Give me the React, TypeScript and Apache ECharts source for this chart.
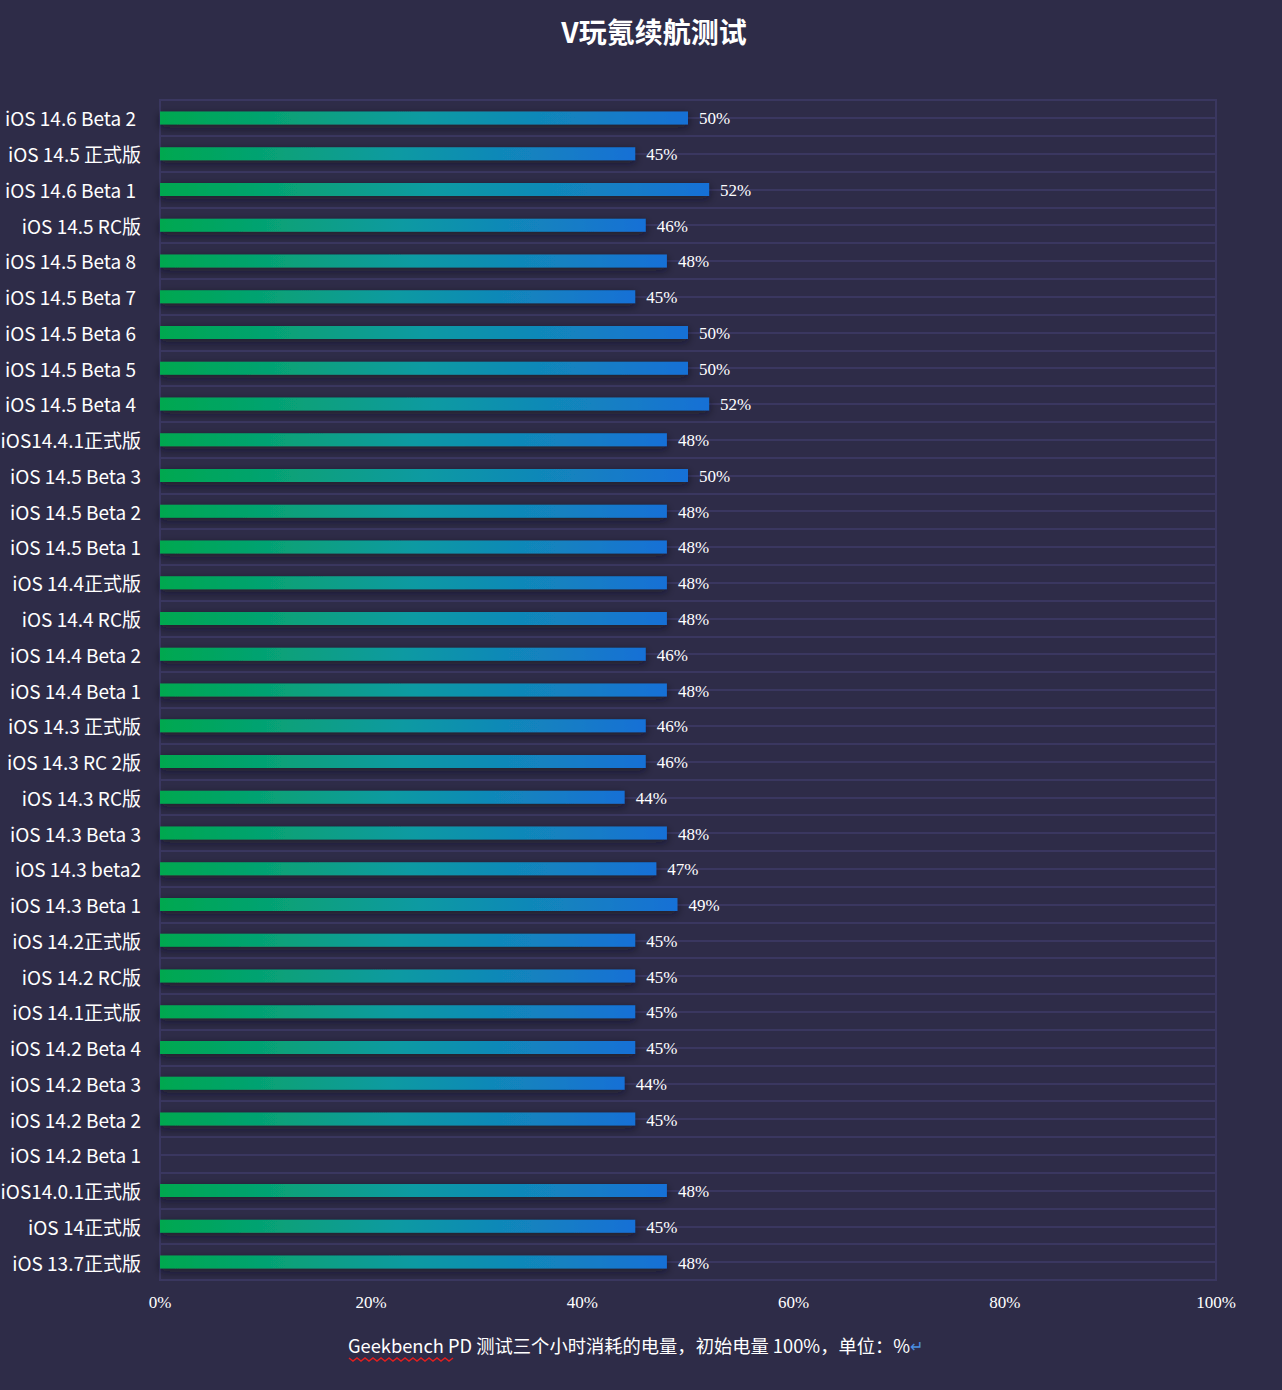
import React, { useEffect, useRef } from "react";
import * as echarts from "echarts";

const categories: string[] = [
  "iOS 14.6 Beta 2",
  "iOS 14.5 正式版",
  "iOS 14.6 Beta 1",
  "iOS 14.5 RC版",
  "iOS 14.5 Beta 8",
  "iOS 14.5 Beta 7",
  "iOS 14.5 Beta 6",
  "iOS 14.5 Beta 5",
  "iOS 14.5 Beta 4",
  "iOS14.4.1正式版",
  "iOS 14.5 Beta 3",
  "iOS 14.5 Beta 2",
  "iOS 14.5 Beta 1",
  "iOS 14.4正式版",
  "iOS 14.4 RC版",
  "iOS 14.4 Beta 2",
  "iOS 14.4 Beta 1",
  "iOS 14.3 正式版",
  "iOS 14.3 RC 2版",
  "iOS 14.3 RC版",
  "iOS 14.3 Beta 3",
  "iOS 14.3 beta2",
  "iOS 14.3 Beta 1",
  "iOS 14.2正式版",
  "iOS 14.2 RC版",
  "iOS 14.1正式版",
  "iOS 14.2 Beta 4",
  "iOS 14.2 Beta 3",
  "iOS 14.2 Beta 2",
  "iOS 14.2 Beta 1",
  "iOS14.0.1正式版",
  "iOS 14正式版",
  "iOS 13.7正式版",
];

const values: (number | null)[] = [
  50, 45, 52, 46, 48, 45, 50, 50, 52, 48, 50, 48, 48, 48, 48, 46, 48, 46, 46, 44,
  48, 47, 49, 45, 45, 45, 45, 44, 45, null, 48, 45, 48,
];

const xTicks: number[] = [0, 20, 40, 60, 80, 100];

// labels that sit slightly further left in the original
const indentedLabels: string[] = [
  "iOS 14.6 Beta 2",
  "iOS 14.6 Beta 1",
  "iOS 14.5 Beta 8",
  "iOS 14.5 Beta 7",
  "iOS 14.5 Beta 6",
  "iOS 14.5 Beta 5",
  "iOS 14.5 Beta 4",
];

const titleText = "V玩氪续航测试";
const noteWord = "Geekbench";
const noteRest = " PD 测试三个小时消耗的电量，初始电量 100%，单位：%";

export default function App() {
  const ref = useRef<HTMLDivElement>(null);

  useEffect(() => {
    document.body.style.margin = "0";
    if (!ref.current) return;
    const chart = echarts.init(ref.current, undefined, { renderer: "svg" });

    const squiggle: number[][] = [];
    for (let i = 0; i <= 26; i++) {
      squiggle.push([349 + i * 4, i % 2 === 0 ? 1358 : 1361]);
    }

    const labelBase = {
      color: "#ffffff",
      fontSize: 19,
      fontWeight: "normal",
      fontFamily: "Noto Sans CJK SC",
    };

    chart.setOption({
      animation: false,
      backgroundColor: "#2e2c48",
      title: {
        text: titleText,
        left: 649,
        top: 12,
        textAlign: "center",
        textStyle: {
          color: "#ffffff",
          fontSize: 28,
          fontWeight: "bold",
          fontFamily: "Noto Sans CJK SC",
        },
      },
      grid: {
        left: 160,
        right: 66,
        top: 100,
        bottom: 110,
        containLabel: false,
        outerBoundsMode: "none",
        show: true,
        borderColor: "#3a3760",
        borderWidth: 2,
        backgroundColor: "transparent",
      },
      xAxis: {
        type: "value",
        min: 0,
        max: 100,
        interval: 20,
        axisLine: { show: false },
        axisTick: { show: false },
        splitLine: { show: false },
        axisLabel: {
          color: "#ffffff",
          fontSize: 17,
          fontFamily: "Liberation Serif",
          margin: 14,
          formatter: (v: number) => (xTicks.includes(v) ? v + "%" : ""),
        },
      },
      yAxis: [
        {
          type: "category",
          data: categories,
          inverse: true,
          axisLine: { show: false },
          axisTick: { show: false },
          splitLine: { show: false },
          axisLabel: {
            ...labelBase,
            margin: 19,
            formatter: (v: string) =>
              indentedLabels.includes(v) ? "{s|" + v + "}" : "{n|" + v + "}",
            rich: {
              n: { ...labelBase },
              s: { ...labelBase, padding: [0, 5, 0, 0] },
            },
          },
        },
        {
          type: "value",
          min: 0,
          max: 33,
          interval: 0.5,
          inverse: true,
          position: "right",
          axisLine: { show: false },
          axisTick: { show: false },
          axisLabel: { show: false },
          splitLine: { show: true, lineStyle: { color: "#3a3760", width: 2 } },
        },
      ],
      series: [
        {
          type: "bar",
          yAxisIndex: 0,
          data: values,
          barWidth: 13,
          itemStyle: {
            color: new echarts.graphic.LinearGradient(0, 0, 1, 0, [
              { offset: 0, color: "#00a84f" },
              { offset: 0.5, color: "#0e9aa2" },
              { offset: 1, color: "#1570d6" },
            ]),
            shadowColor: "rgba(10,8,30,0.6)",
            shadowBlur: 8,
            shadowOffsetY: 3,
          },
          label: {
            show: true,
            position: "right",
            distance: 11,
            offset: [0, 1],
            color: "#ffffff",
            fontSize: 17,
            fontFamily: "Liberation Serif",
            formatter: (p: any) => (p.value == null ? "" : p.value + "%"),
          },
        },
      ],
      graphic: [
        {
          type: "text",
          left: 348,
          top: 1336,
          style: {
            text: "{a|" + noteWord + "}{a|" + noteRest + "}{b|↵}",
            rich: {
              a: { fill: "#ffffff", fontSize: 18.3, fontFamily: "Noto Sans CJK SC" },
              b: { fill: "#4a8fe0", fontSize: 16, fontFamily: "Noto Sans CJK SC" },
            },
          },
        },
        {
          type: "polyline",
          shape: { points: squiggle },
          style: { stroke: "#e02020", lineWidth: 1.5, fill: null },
        },
      ],
    });

    return () => chart.dispose();
  }, []);

  return <div ref={ref} style={{ width: 1282, height: 1390 }} />;
}
